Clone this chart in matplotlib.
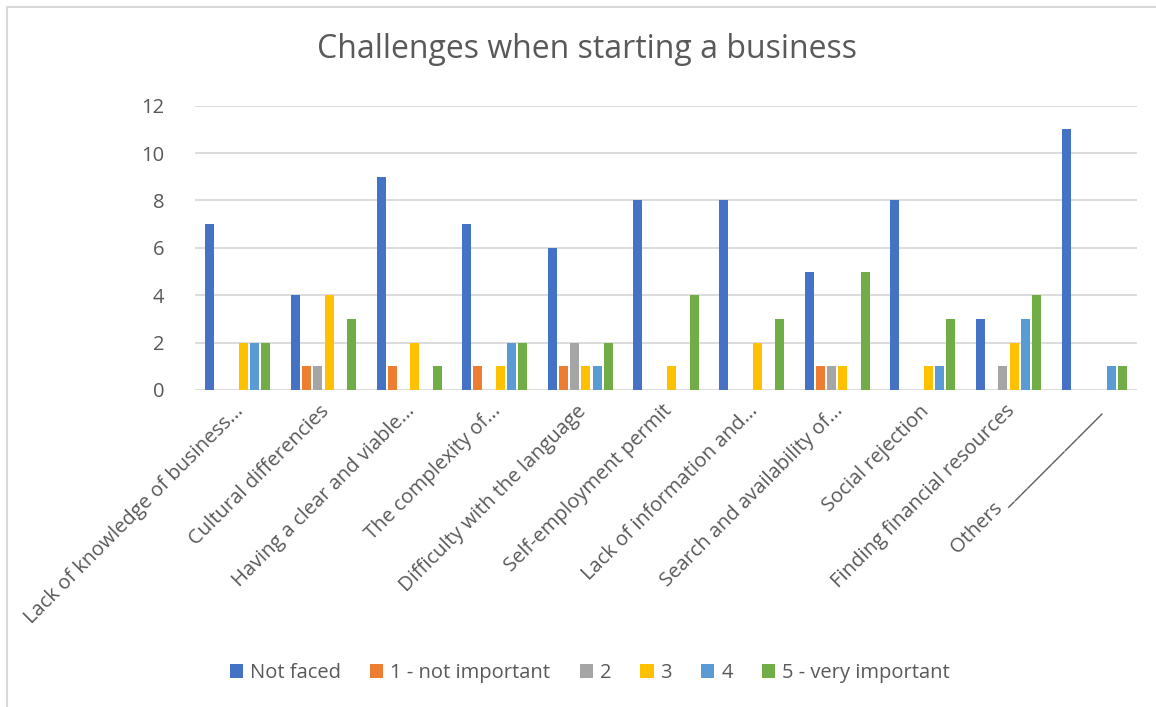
import matplotlib.pyplot as plt
import matplotlib.patches as mpatches
import matplotlib.transforms as mtrans
import numpy as np

plt.rcParams['font.family'] = ['Open Sans', 'DejaVu Sans']

categories = ['Lack of knowledge of business...', 'Cultural differencies',
              'Having a clear and viable...', 'The complexity of...',
              'Difficulty with the language', 'Self-employment permit',
              'Lack of information and...', 'Search and availability of...',
              'Social rejection', 'Finding financial resources',
              'Others ' + '_' * 15]
series_names = ['Not faced', '1 - not important', '2', '3', '4', '5 - very important']
not_faced = [7, 4, 9, 7, 6, 8, 8, 5, 8, 3, 11]
imp1 = [0, 1, 1, 1, 1, 0, 0, 1, 0, 0, 0]
imp2 = [0, 1, 0, 0, 2, 0, 0, 1, 0, 1, 0]
imp3 = [2, 4, 2, 1, 1, 1, 2, 1, 1, 2, 0]
imp4 = [2, 0, 0, 2, 1, 0, 0, 0, 1, 3, 1]
imp5 = [2, 3, 1, 2, 2, 4, 3, 5, 3, 4, 1]
colors = ['#4472C4', '#ED7D31', '#A5A5A5', '#FFC000', '#5B9BD5', '#70AD47']

fig = plt.figure(figsize=(11.56, 7.07), dpi=100)
ax = fig.add_axes([195/1156, 1-390/707, (1137-195)/1156, (390-105.7)/707])

# chart area border
fig.patches.append(mpatches.Rectangle((7/1156, -0.1), 1.2, 1.1 - 7/707,
                                      transform=fig.transFigure, fill=False,
                                      edgecolor='#D9D9D9', lw=1.5))

x = np.arange(len(categories))
pitch = 0.131
width = 0.105
data = [not_faced, imp1, imp2, imp3, imp4, imp5]
for i, (vals, name, c) in enumerate(zip(data, series_names, colors)):
    ax.bar(x + (i - 2.5) * pitch, vals, width, color=c, label=name, zorder=3)

ax.set_xlim(-0.5, len(categories) - 0.5)
ax.set_ylim(0, 12)
ax.set_yticks(range(0, 13, 2))
ax.grid(axis='y', color='#D9D9D9', lw=1.3, zorder=0)
for s in ax.spines.values():
    s.set_visible(False)
ax.tick_params(axis='both', length=0, colors='#595959', labelsize=14.5)
ax.tick_params(axis='y', pad=22)
ax.tick_params(axis='x', pad=8)
ax.set_xticks(x)
ax.set_xticklabels(categories, rotation=45, ha='right', color='#595959')
off = mtrans.ScaledTranslation(10/100, 0, fig.dpi_scale_trans)
for lab in ax.get_xticklabels():
    lab.set_transform(lab.get_transform() + off)

fig.text(587/1156, 1-50/707, 'Challenges when starting a business', ha='center',
         va='center', fontsize=23, color='#595959')

fig.legend(loc='center', bbox_to_anchor=(590/1156, 1-673/707), ncol=6,
           frameon=False, fontsize=14.5, labelcolor='#595959', handlelength=0.65,
           handleheight=0.65, handletextpad=0.35, columnspacing=1.45)

fig.savefig('out.png', dpi=100)
